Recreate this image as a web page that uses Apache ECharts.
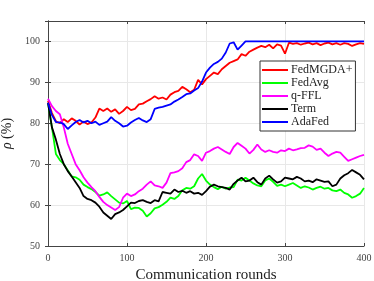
<!DOCTYPE html>
<html><head><meta charset="utf-8">
<script src="https://cdn.jsdelivr.net/npm/echarts@6/dist/echarts.min.js"></script>
<style>html,body{margin:0;padding:0;background:#fff}#c{width:374px;height:281px}</style>
</head><body><div id="c"></div>
<script>
const rounds = [0,5,10,15,20,25,30,35,40,45,50,55,60,65,70,75,80,85,90,95,
  100,105,110,115,120,125,130,135,140,145,150,155,160,165,170,175,180,185,190,195,
  200,205,210,215,220,225,230,235,240,245,250,255,260,265,270,275,280,285,290,295,
  300,305,310,315,320,325,330,335,340,345,350,355,360,365,370,375,380,385,390,395,400];
const seriesNames = ['FedMGDA+','FedAvg','q-FFL','Term','AdaFed'];
const fedMGDA = [85.5,82.5,80.5,80.0,81.0,80.3,81.2,80.6,79.7,80.4,79.8,80.2,81.4,83.6,83.0,83.6,82.8,83.4,82.3,83.0,
  84.0,83.2,83.5,84.6,84.8,85.4,85.9,86.6,86.0,86.3,85.8,87.0,87.6,87.9,88.9,88.3,87.6,88.2,90.6,89.5,
  90.8,91.6,92.4,92.0,93.2,94.0,94.8,95.2,95.6,96.9,96.5,97.5,98.0,98.5,98.9,98.6,99.2,98.3,99.3,99.0,
  97.0,99.7,99.4,99.6,99.2,99.5,99.7,99.3,99.6,99.1,99.5,99.7,99.3,99.6,99.2,99.6,99.4,98.9,99.3,99.6,99.4];
const fedAvg = [85.0,79.0,72.5,71.0,70.0,68.5,67.0,66.8,66.2,65.0,64.4,63.9,63.2,62.3,62.6,63.1,62.2,61.4,60.6,60.4,
  61.0,59.0,59.4,59.3,58.6,57.2,58.0,59.2,59.5,60.1,60.8,61.8,61.5,62.2,63.6,64.2,64.0,64.6,66.5,67.6,
  66.0,65.0,64.4,63.9,64.5,64.0,64.3,64.4,66.2,66.0,66.7,66.0,65.3,64.8,64.6,66.0,66.5,65.7,64.7,65.0,
  64.6,65.0,65.4,64.8,64.2,64.6,64.3,63.8,64.2,64.5,64.0,64.2,63.6,63.4,63.8,63.0,62.6,61.8,62.2,62.8,64.2];
const qFFL = [86.0,84.2,83.0,82.2,79.0,75.0,72.5,70.0,68.5,66.8,65.5,64.4,63.4,62.0,60.8,60.0,59.4,58.8,59.5,61.8,
  62.8,62.2,62.6,63.4,64.0,65.0,65.8,64.8,64.6,64.2,65.5,67.8,68.0,68.3,69.0,70.5,71.0,72.4,72.0,70.8,
  72.8,73.2,73.8,74.2,73.6,73.0,72.5,74.2,75.2,74.5,73.8,72.6,73.5,74.8,73.6,73.0,73.4,73.0,72.8,73.4,
  73.2,73.8,73.4,73.6,73.9,74.0,74.6,74.3,73.5,73.8,72.8,72.0,72.6,73.0,72.8,71.8,70.8,71.2,71.6,72.0,72.3];
const term = [85.0,79.0,76.0,72.5,70.0,68.3,67.0,65.6,64.2,62.2,61.5,61.2,60.6,59.6,58.2,57.4,56.6,57.8,58.2,58.8,
  59.7,60.6,60.5,61.0,61.2,60.8,60.5,61.2,60.9,63.2,63.0,62.8,63.8,63.2,63.5,63.0,63.4,62.8,63.0,62.5,
  63.4,64.5,65.0,64.6,64.4,64.2,63.8,65.2,66.0,66.7,65.8,66.0,66.7,65.6,65.0,66.5,67.2,66.3,65.5,65.8,
  66.7,66.5,66.3,66.9,66.5,65.8,66.0,65.6,66.3,66.0,65.7,65.8,64.6,65.0,66.5,67.3,67.8,68.6,68.0,67.4,66.3];
const adaFed = [85.0,82.0,80.3,80.2,79.8,78.6,79.5,80.3,80.8,80.2,80.6,80.0,80.4,79.6,80.0,80.4,81.5,80.6,80.0,79.2,
  79.4,80.2,80.8,81.3,80.7,80.3,81.0,83.5,83.8,84.0,84.3,84.6,85.3,85.8,86.4,87.1,87.3,88.0,88.6,90.2,
  92.4,93.6,94.5,95.0,95.8,97.3,99.5,99.8,98.0,99.0,100,100,100,100,100,100,100,100,100,100,
  100,100,100,100,100,100,100,100,100,100,100,100,100,100,100,100,100,100,100,100,100];
const xTicks = [0,100,200,300,400];
const yTicks = [50,60,70,80,90,100];

const values = [fedMGDA, fedAvg, qFFL, term, adaFed];
const colors = ['#ff0000','#00ff00','#ff00ff','#000000','#0000ff'];
const font = 'Liberation Serif';
const chart = echarts.init(document.getElementById('c'), null, {renderer:'canvas'});
const axisCommon = {
  axisLine:{show:true, lineStyle:{color:'#444', width:1}},
  axisTick:{show:true, inside:true, length:3, lineStyle:{color:'#444'}},
};
chart.setOption({
  animation:false,
  backgroundColor:'#fff',
  grid:{left:48, right:10, top:21, bottom:35, containLabel:false, outerBoundsMode:'none'},
  legend:{
    orient:'vertical', left:260, top:61,
    data: seriesNames,
    icon:'rect',
    itemWidth:26, itemHeight:2, itemGap:1,
    padding:[3,3,3,2],
    backgroundColor:'#fff', borderColor:'#333', borderWidth:1, borderRadius:0,
    textStyle:{fontFamily:font, fontSize:12, lineHeight:12, color:'#222', padding:[0,0,0,-2]}
  },
  xAxis:[{
    type:'value', min:0, max:400, interval:100, position:'bottom',
    ...axisCommon,
    axisLabel:{fontFamily:font, fontSize:10, color:'#444', margin:7,
      formatter:v=>xTicks.includes(v)?String(v):''},
    splitLine:{show:true, lineStyle:{color:'#e8e8e8', width:1}},
    name:'Communication rounds', nameLocation:'middle', nameGap:17,
    nameTextStyle:{fontFamily:font, fontSize:15, color:'#222'}
  },{
    type:'value', min:0, max:400, interval:100, position:'top',
    ...axisCommon, axisLabel:{show:false}, splitLine:{show:false}
  }],
  yAxis:[{
    type:'value', min:50, max:105, interval:10, position:'left',
    ...axisCommon,
    axisLabel:{fontFamily:font, fontSize:10, color:'#444', margin:8, showMaxLabel:false,
      formatter:v=>yTicks.includes(v)?String(v):''},
    splitLine:{show:true, lineStyle:{color:'#e8e8e8', width:1}},
    name:'{i|ρ} (%)', nameLocation:'middle', nameGap:26,
    nameTextStyle:{fontFamily:font, fontSize:14, color:'#222',
      rich:{i:{fontFamily:font, fontSize:14, fontStyle:'italic', color:'#222'}}}
  },{
    type:'value', min:50, max:105, interval:10, position:'right',
    ...axisCommon, axisLabel:{show:false}, splitLine:{show:false}
  }],
  series: seriesNames.map((n,k)=>({
    name:n, type:'line', xAxisIndex:0, yAxisIndex:0,
    data: rounds.map((r,i)=>[r, values[k][i]]),
    symbol:'none', showSymbol:false,
    lineStyle:{color:colors[k], width:1.8},
    itemStyle:{color:colors[k]},
    z: 2+k
  }))
});
</script></body></html>
